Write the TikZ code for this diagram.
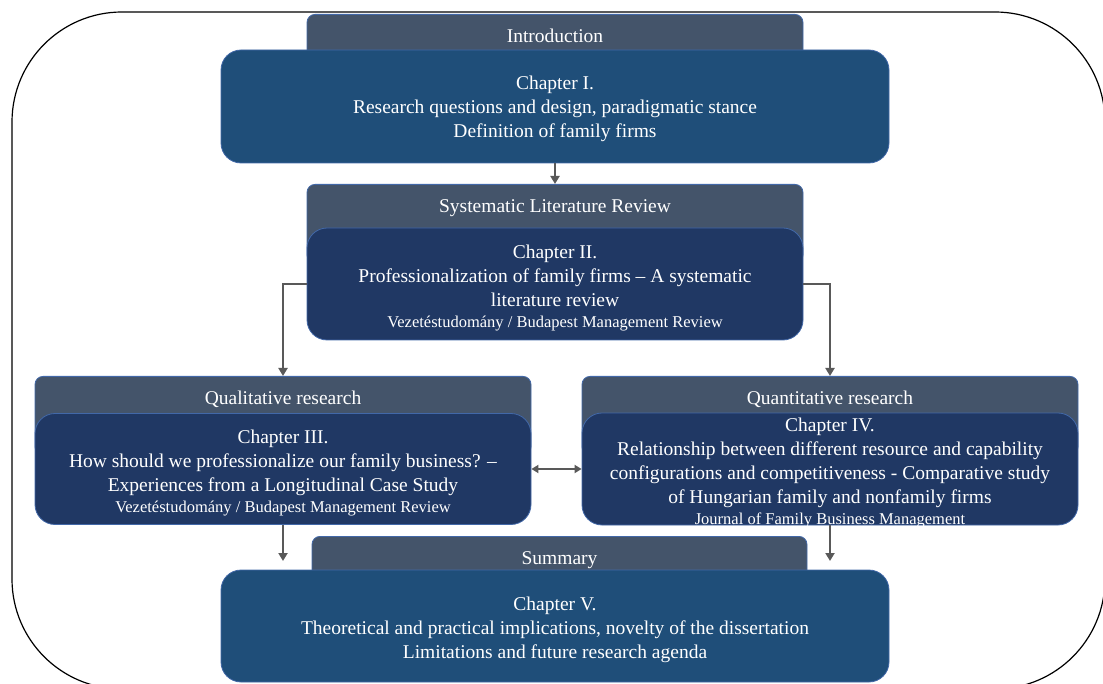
\documentclass[tikz,border=0pt]{standalone}
\usepackage{fontspec}
\setmainfont{Liberation Serif}
\usetikzlibrary{arrows.meta}
\definecolor{tabgray}{RGB}{68,84,106}
\definecolor{chapblue}{RGB}{31,78,121}
\definecolor{chapnavy}{RGB}{32,56,100}
\definecolor{edgeblue}{RGB}{66,104,168}
\definecolor{arrowgray}{RGB}{89,89,89}
\begin{document}
\begin{tikzpicture}[x=1pt,y=-1pt,
  tab/.style={rounded corners=8pt,fill=tabgray,draw=edgeblue,line width=.8pt,
    anchor=north,minimum width=496pt,inner ysep=10pt,text height=18.5pt,
    text depth=40pt,text=white,font=\fontsize{19.5}{24}\selectfont},
  chap/.style={rounded corners=20pt,draw=edgeblue,line width=.8pt,
    text=white,align=center,font=\fontsize{19.5}{24}\selectfont},
  chaptext/.style={text=white,align=center,inner sep=0pt,
    font=\fontsize{19.5}{24}\selectfont},
  arr/.style={draw=arrowgray,line width=2.5pt,-{Triangle[length=8pt,width=9pt]}},
  both/.style={draw=arrowgray,line width=2.5pt,
    {Triangle[length=7pt,width=8pt]}-{Triangle[length=7pt,width=8pt]}}]
\useasboundingbox (0,0) rectangle (1103,684);
\draw[line width=1.2pt,rounded corners=110pt] (12,12) rectangle (1105,689);
\node[tab] (intro) at (555,14) {Introduction};
\node[tab] (slr) at (555,184) {Systematic Literature Review};
\node[tab] (qual) at (283,376) {Qualitative research};
\node[tab] (quant) at (830,376) {Quantitative research};
\node[tab,minimum width=495pt] (summ) at (559.5,536) {Summary};
\node[chap,fill=chapblue,minimum width=668pt,minimum height=113pt] (ch1) at (555,106.5)
  {\rule{0pt}{17.5pt}Chapter I.\\Research questions and design, paradigmatic stance\\
   Definition of family firms};
\node[chap,fill=chapnavy,minimum width=496pt,minimum height=112pt] (ch2) at (555,284)
  {\rule{0pt}{21pt}Chapter II.\\Professionalization of family firms -- A systematic\\
   literature review\\[-3pt]
   {\fontsize{16.5}{22}\selectfont Vezetéstudomány / Budapest Management Review}};
\node[chap,fill=chapnavy,minimum width=496pt,minimum height=111pt] (ch3) at (283,469)
  {\rule{0pt}{21pt}Chapter III.\\How should we professionalize our family business? --\\
   Experiences from a Longitudinal Case Study\\[-3pt]
   {\fontsize{16.5}{22}\selectfont Vezetéstudomány / Budapest Management Review}};
\node[chap,fill=chapnavy,minimum width=496pt,minimum height=112pt] (ch4) at (830,469) {};
\node[chaptext] (ch4text) at (830,473.5)
  {Chapter IV.\\Relationship between different resource and capability\\
   configurations and competitiveness - Comparative study\\
   of Hungarian family and nonfamily firms\\[-3pt]
   {\fontsize{16.5}{22}\selectfont Journal of Family Business Management}};
\node[chap,fill=chapblue,minimum width=668pt,minimum height=112pt] (ch5) at (555,626)
  {\rule{0pt}{20.5pt}Chapter V.\\Theoretical and practical implications, novelty of the dissertation\\
   Limitations and future research agenda};
\coordinate (e3) at (283,561);
\coordinate (e4) at (830,561);
\draw[arr] (ch1) -- (slr.north);
\draw[arr] (ch2.west) -| (qual.north);
\draw[arr] (ch2.east) -| (quant.north);
\draw[both] (ch3.east) -- (ch4.west);
\draw[arr] (ch3) -- (e3);
\draw[arr] (ch4) -- (e4);
\end{tikzpicture}
\end{document}
